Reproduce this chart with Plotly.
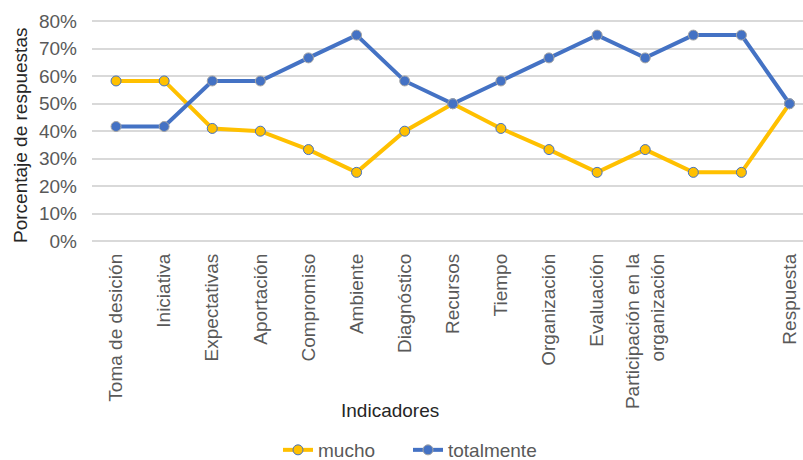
import plotly.graph_objects as go

categories = ["Toma de desición", "Iniciativa", "Expectativas", "Aportación", "Compromiso",
              "Ambiente", "Diagnóstico", "Recursos", "Tiempo", "Organización", "Evaluación",
              "Participación en la<br>organización", "", "", "Respuesta"]
mucho = [58.3, 58.3, 41, 40, 33.3, 25, 40, 50, 41, 33.3, 25, 33.3, 25, 25, 50]
totalmente = [41.7, 41.7, 58.3, 58.3, 66.7, 75, 58.3, 50, 58.3, 66.7, 75, 66.7, 75, 75, 50]
y_ticks = [0, 10, 20, 30, 40, 50, 60, 70, 80]

idx = list(range(len(categories)))
FONT = "Liberation Sans, Arial, sans-serif"
FS = 19
L, T, B, W, H = 92, 20, 219, 803, 460
pw, ph = W - L, H - T - B


def px_x(x):
    return (x - L) / pw


def px_y(y):
    return (H - B - y) / ph


fig = go.Figure()
fig.add_trace(go.Scatter(x=idx, y=mucho, name="mucho", mode="lines+markers",
                         line=dict(color="#FFC000", width=4),
                         marker=dict(size=10, color="#FFC000", line=dict(color="#4472C4", width=1))))
fig.add_trace(go.Scatter(x=idx, y=totalmente, name="totalmente", mode="lines+markers",
                         line=dict(color="#4472C4", width=4),
                         marker=dict(size=10, color="#4472C4", line=dict(color="#A5A5A5", width=1))))

fig.update_layout(
    width=W, height=H,
    margin=dict(l=L, r=0, t=T, b=B, autoexpand=False),
    paper_bgcolor="white", plot_bgcolor="white",
    font=dict(family=FONT, size=FS, color="#595959"),
    showlegend=True,
    legend=dict(orientation="h", x=px_x(278), xref="paper", xanchor="left", y=px_y(450), yanchor="middle",
                entrywidth=85, entrywidthmode="pixels",
                font=dict(size=FS, color="#595959")),
    xaxis=dict(range=[-0.5, 14.28], tickvals=idx, ticktext=categories, tickangle=-90,
               showgrid=False, zeroline=False, showline=False, ticks="", automargin=False,
               ticklabelstandoff=8,
               tickfont=dict(size=FS, color="#595959")),
    yaxis=dict(range=[0, 80.5], tickvals=y_ticks, ticktext=[f"{v}%" for v in y_ticks],
               showgrid=True, gridcolor="#D9D9D9", gridwidth=1.5, zeroline=True,
               zerolinecolor="#D9D9D9", zerolinewidth=1.5, ticks="", automargin=False,
               ticklabelstandoff=14,
               tickfont=dict(size=FS, color="#595959")),
    annotations=[
        dict(text="Indicadores", xref="paper", yref="paper", x=px_x(390), y=px_y(410),
             xanchor="center", yanchor="middle", showarrow=False,
             font=dict(size=FS, color="#262626")),
        dict(text="Porcentaje de respuestas", textangle=-90, xref="paper", yref="paper",
             x=px_x(20), y=px_y(136), xanchor="center", yanchor="middle", showarrow=False,
             font=dict(size=FS, color="#262626")),
    ],
)

fig.write_html("out.html")
